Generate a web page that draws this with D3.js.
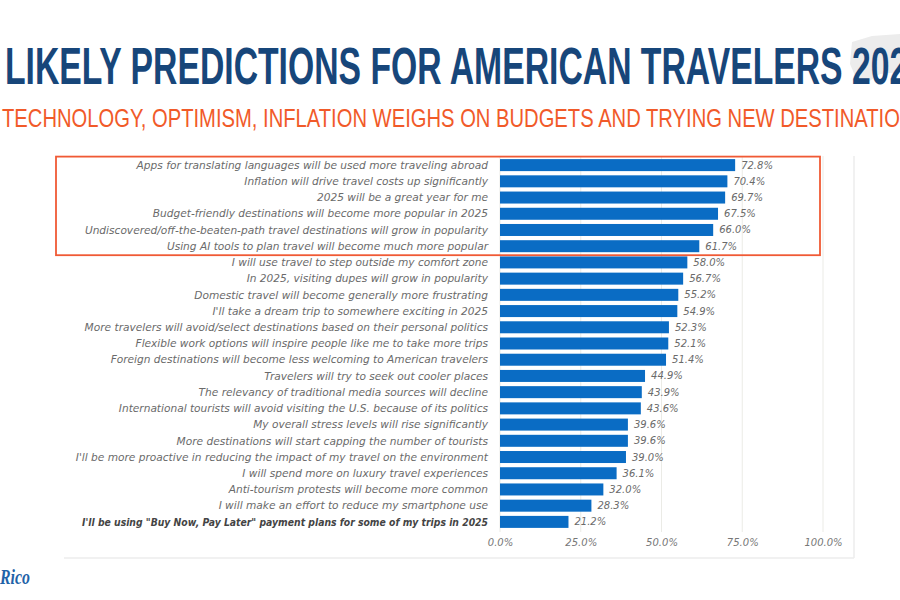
<!DOCTYPE html>
<html><head><meta charset="utf-8">
<script src="https://cdn.jsdelivr.net/npm/d3@7"></script>
<style>html,body{margin:0;padding:0;background:#fff;overflow:hidden}</style>
</head><body>
<svg id="chart" width="900" height="600"></svg>
<script>
const titleText = "LIKELY PREDICTIONS FOR AMERICAN TRAVELERS 2025";
const subtitleText = "TECHNOLOGY, OPTIMISM, INFLATION WEIGHS ON BUDGETS AND TRYING NEW DESTINATIONS";
const categories = [
  "Apps for translating languages will be used more traveling abroad",
  "Inflation will drive travel costs up significantly",
  "2025 will be a great year for me",
  "Budget-friendly destinations will become more popular in 2025",
  "Undiscovered/off-the-beaten-path travel destinations will grow in popularity",
  "Using AI tools to plan travel will become much more popular",
  "I will use travel to step outside my comfort zone",
  "In 2025, visiting dupes will grow in popularity",
  "Domestic travel will become generally more frustrating",
  "I'll take a dream trip to somewhere exciting in 2025",
  "More travelers will avoid/select destinations based on their personal politics",
  "Flexible work options will inspire people like me to take more trips",
  "Foreign destinations will become less welcoming to American travelers",
  "Travelers will try to seek out cooler places",
  "The relevancy of traditional media sources will decline",
  "International tourists will avoid visiting the U.S. because of its politics",
  "My overall stress levels will rise significantly",
  "More destinations will start capping the number of tourists",
  "I'll be more proactive in reducing the impact of my travel on the environment",
  "I will spend more on luxury travel experiences",
  "Anti-tourism protests will become more common",
  "I will make an effort to reduce my smartphone use",
  "I'll be using \"Buy Now, Pay Later\" payment plans for some of my trips in 2025"
];
const values = [72.8, 70.4, 69.7, 67.5, 66.0, 61.7, 58.0, 56.7, 55.2, 54.9, 52.3, 52.1, 51.4, 44.9, 43.9, 43.6, 39.6, 39.6, 39.0, 36.1, 32.0, 28.3, 21.2];
const tickValues = [0, 25, 50, 75, 100];
const highlighted = categories.slice(0, 6);
const boldCategory = categories[categories.length - 1];

const svg = d3.select("#chart");
const labelFont = "'DejaVu Sans',Verdana,sans-serif";

// decorative light shape top right
svg.append("path")
  .attr("d", "M852,42 L872,36 L900,34 L900,72 L880,74 L868,82 L856,78 L850,64 Z")
  .attr("fill", "#ececec");

// title
svg.append("text")
  .attr("x", 5).attr("y", 84)
  .attr("textLength", 922).attr("lengthAdjust", "spacingAndGlyphs")
  .style("font-family", "'Liberation Sans Narrow','Liberation Sans',sans-serif")
  .style("font-weight", "bold").style("font-size", "52px")
  .attr("fill", "#17467a")
  .text(titleText);

svg.append("text")
  .attr("x", 2).attr("y", 127)
  .attr("textLength", 926).attr("lengthAdjust", "spacingAndGlyphs")
  .style("font-family", "'Liberation Sans Narrow','Liberation Sans',sans-serif")
  .style("font-size", "25px")
  .attr("fill", "#f15a29")
  .text(subtitleText);

// panel lines
svg.append("line").attr("x1", 64).attr("x2", 854).attr("y1", 558).attr("y2", 558)
  .attr("stroke", "#ececec").attr("stroke-width", 1.5);
svg.append("line").attr("x1", 854).attr("x2", 854).attr("y1", 156).attr("y2", 558)
  .attr("stroke", "#ececec").attr("stroke-width", 1.5);

const x = d3.scaleLinear().domain([0, 100]).range([500, 823]);
const y = d3.scaleBand().domain(categories).range([157, 530]).paddingInner(0.26).paddingOuter(0.13);

// gridlines
svg.append("g").selectAll("line").data(tickValues).join("line")
  .attr("x1", d => x(d)).attr("x2", d => x(d))
  .attr("y1", 156).attr("y2", 532)
  .attr("stroke", "#ebebe6").attr("stroke-width", 1);

// axis
const axis = d3.axisBottom(x).tickValues(tickValues).tickFormat(d => d.toFixed(1) + "%").tickSize(0).tickPadding(0);
const ag = svg.append("g").attr("transform", "translate(0,539)").call(axis);
ag.select(".domain").remove();
ag.selectAll("text")
  .style("font-family", labelFont).style("font-style", "italic")
  .style("font-size", "10px").attr("fill", "#777").attr("dy", "0.71em");

// bars
const data = categories.map((c, i) => ({c, v: values[i]}));
svg.append("g").selectAll("rect").data(data).join("rect")
  .attr("x", x(0)).attr("y", d => y(d.c))
  .attr("width", d => x(d.v) - x(0)).attr("height", y.bandwidth())
  .attr("fill", "#0a6cc4");

// value labels
svg.append("g").selectAll("text").data(data).join("text")
  .attr("x", d => x(d.v) + 6).attr("y", d => y(d.c) + y.bandwidth() / 2)
  .attr("dy", "0.35em")
  .style("font-family", labelFont).style("font-style", "italic")
  .style("font-size", "10px").attr("fill", "#6a6a6a")
  .text(d => d.v.toFixed(1) + "%");

// category labels
const labels = svg.append("g").selectAll("text").data(data).join("text")
  .attr("x", 488).attr("y", d => y(d.c) + y.bandwidth() / 2)
  .attr("dy", "0.35em").attr("text-anchor", "end")
  .style("font-family", labelFont).style("font-style", "italic")
  .style("font-size", "10.6px")
  .style("font-weight", d => d.c === boldCategory ? "bold" : "normal")
  .attr("fill", d => d.c === boldCategory ? "#444" : "#6a6a6a")
  .text(d => d.c);
labels.filter(d => d.c === boldCategory)
  .attr("textLength", 406).attr("lengthAdjust", "spacingAndGlyphs");

// highlight box
const first = highlighted[0], last = highlighted[highlighted.length - 1];
svg.append("rect")
  .attr("x", 56).attr("y", y(first) - 2.5)
  .attr("width", 764).attr("height", y(last) + y.bandwidth() + 3 - (y(first) - 2.5))
  .attr("fill", "none").attr("stroke", "#f05a35").attr("stroke-width", 1.8);

// logo
svg.append("text")
  .attr("x", 0).attr("y", 584)
  .attr("textLength", 30).attr("lengthAdjust", "spacingAndGlyphs")
  .style("font-family", "'Liberation Serif',serif").style("font-style", "italic").style("font-weight", "bold")
  .style("font-size", "20px").attr("fill", "#1f63a8")
  .text("Rico");
</script>
</body></html>
